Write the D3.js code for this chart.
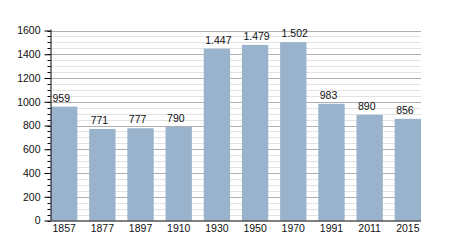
<!DOCTYPE html>
<html>
<head>
<meta charset="utf-8">
<script src="https://cdn.jsdelivr.net/npm/d3@7"></script>
<style>
body { margin: 0; background: #fff; }
text { font-family: "Liberation Sans", Arial, sans-serif; font-size: 10.5px; fill: #111; }
</style>
</head>
<body>
<script>
// data
var years = ["1857","1877","1897","1910","1930","1950","1970","1991","2011","2015"];
var population = [959, 771, 777, 790, 1447, 1479, 1502, 983, 890, 856];
var yTicks = [0, 200, 400, 600, 800, 1000, 1200, 1400, 1600];

var width = 450, height = 250;
// plot edges (not "top": that name is taken by window.top)
var plotLeft = 50.5, plotRight = 421, plotTop = 30.5, plotBottom = 220.5;

var svg = d3.select("body").append("svg")
    .attr("width", width)
    .attr("height", height);

var x = d3.scaleBand()
    .domain(years)
    .range([51, plotRight])
    .paddingInner(0.31)
    .paddingOuter(0);

var y = d3.scaleLinear()
    .domain([0, 1600])
    .range([plotBottom, plotTop]);

// dot as thousands separator
var fmt = function(v){
    return d3.format(",")(v).replace(/,/g, ".");
};

// grid: minor every 50, major every 200
var minor = d3.range(50, 1601, 50).filter(function(v){ return v % 200 != 0; });
svg.append("g").selectAll("line")
    .data(minor).enter().append("line")
    .attr("x1", plotLeft).attr("x2", plotRight)
    .attr("y1", function(d){ return Math.round(y(d)) + 0.5; })
    .attr("y2", function(d){ return Math.round(y(d)) + 0.5; })
    .style("stroke", "#e2e2e2");
svg.append("g").selectAll("line")
    .data(yTicks.slice(1)).enter().append("line")
    .attr("x1", plotLeft).attr("x2", plotRight)
    .attr("y1", function(d){ return Math.round(y(d)) + 0.5; })
    .attr("y2", function(d){ return Math.round(y(d)) + 0.5; })
    .style("stroke", "#b0b0b0");

// bars
svg.append("g").selectAll("rect")
    .data(population).enter().append("rect")
    .attr("x", function(d,i){ return x(years[i]); })
    .attr("y", function(d){ return y(d); })
    .attr("width", x.bandwidth())
    .attr("height", function(d){ return plotBottom - y(d); })
    .style("fill", "#9ab3cc");

// value labels
svg.append("g").selectAll("text")
    .data(population).enter().append("text")
    .attr("x", function(d,i){ return x(years[i]) + 1.5; })
    .attr("y", function(d){ return y(d) - 5; })
    .text(function(d){ return fmt(d); });

// y axis with minor ticks
var yAxis = svg.append("g").attr("transform", "translate(" + plotLeft + ",0)");
yAxis.selectAll("line.minor")
    .data(d3.range(0, 1601, 50)).enter().append("line")
    .attr("class", "minor")
    .attr("x1", -3).attr("x2", 0)
    .attr("y1", function(d){ return Math.round(y(d)) + 0.5; })
    .attr("y2", function(d){ return Math.round(y(d)) + 0.5; })
    .style("stroke", "#000");
yAxis.call(d3.axisLeft(y).tickValues(yTicks).tickSize(6).tickPadding(4).tickFormat(d3.format("d")));
yAxis.select(".domain").attr("d", "M0.5," + (plotTop - 1) + "V" + plotBottom);
yAxis.selectAll("text").style("font-size", "10.5px").style("font-family", "Liberation Sans, Arial, sans-serif");

// x axis
var xAxis = svg.append("g").attr("transform", "translate(0," + plotBottom + ")");
xAxis.call(d3.axisBottom(x).tickSize(0).tickPadding(4));
xAxis.select(".domain").attr("d", "M" + plotLeft + ",0.5H" + plotRight);
xAxis.selectAll("text").style("font-size", "10.5px").style("font-family", "Liberation Sans, Arial, sans-serif");
</script>
</body>
</html>
